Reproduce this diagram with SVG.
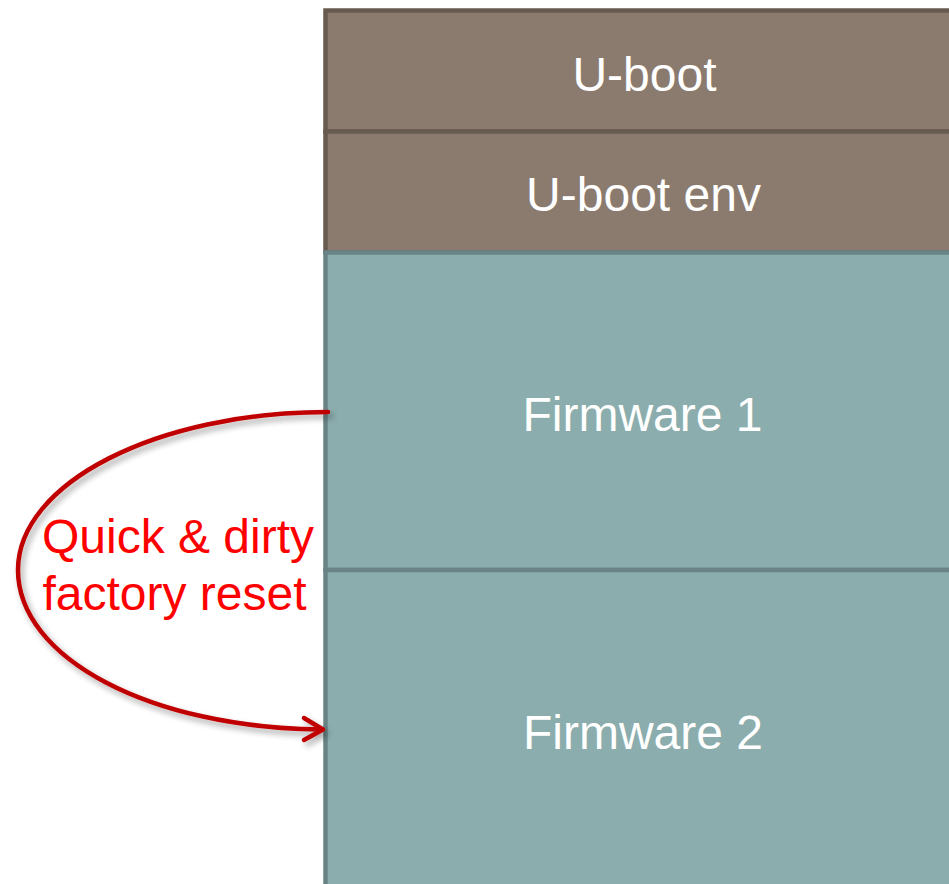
<svg xmlns="http://www.w3.org/2000/svg" width="949" height="884" viewBox="0 0 949 884">
<defs>
<style>
.brown{fill:#8B7B6F;stroke:#675B50;stroke-width:4.5}
.teal{fill:#8BADAD;stroke:#6A8486;stroke-width:4.5}
.lbl{font-family:"Liberation Sans",Arial,sans-serif;font-size:48px;fill:#FFFFFF;text-anchor:middle}
.red{font-family:"Liberation Sans",Arial,sans-serif;font-size:48px;fill:#FF0000;text-anchor:middle}
.conn{fill:none;stroke:#C00000;stroke-width:4.5;stroke-linecap:round;stroke-linejoin:round}
</style>
<filter id="sh" x="-10%" y="-10%" width="130%" height="130%">
<feGaussianBlur in="SourceAlpha" stdDeviation="3"/>
<feOffset dx="3" dy="4" result="b"/>
<feComponentTransfer><feFuncA type="linear" slope="0.35"/></feComponentTransfer>
<feMerge><feMergeNode/><feMergeNode in="SourceGraphic"/></feMerge>
</filter>
</defs>
<g id="uboot">
<rect class="brown" x="325.5" y="10.5" width="640" height="121"/>
<text class="lbl" x="644.5" y="91">U-boot</text>
</g>
<g id="ubootenv">
<rect class="brown" x="325.5" y="131.5" width="640" height="121"/>
<text class="lbl" x="643.5" y="211">U-boot env</text>
</g>
<g id="fw1">
<rect class="teal" x="325.5" y="252.5" width="640" height="317.5"/>
<text class="lbl" x="642.5" y="431">Firmware 1</text>
</g>
<g id="fw2">
<rect class="teal" x="325.5" y="570" width="640" height="340"/>
<text class="lbl" x="643" y="749">Firmware 2</text>
</g>
<g id="connectors">
<g filter="url(#sh)">
<path class="conn" d="M328 412 C157 412 18 483 18 570 C18 658 150 728 322 729.5"/>
<path class="conn" d="M304 718 L323 729.5 L304 740"/>
</g>
</g>
<g id="label">
<text class="red" x="178" y="553">Quick &amp; dirty</text>
<text class="red" x="174.5" y="610">factory reset</text>
</g>
</svg>
